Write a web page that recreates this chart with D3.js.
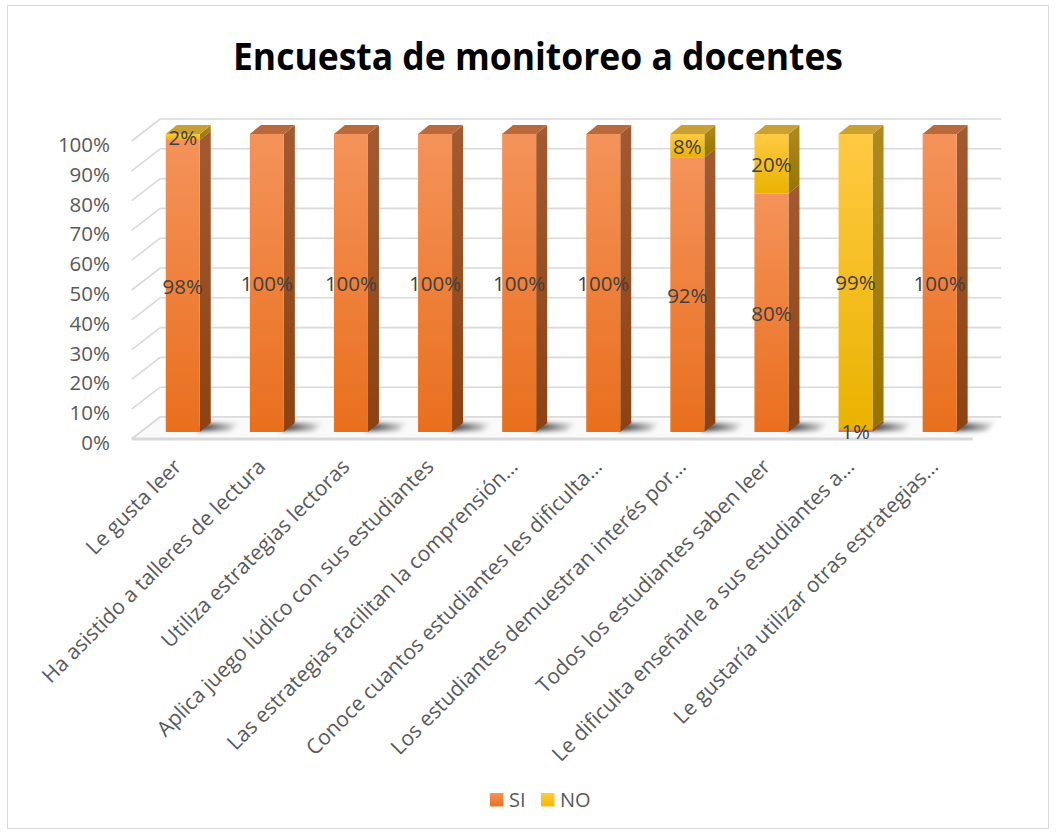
<!DOCTYPE html>
<html><head><meta charset="utf-8">
<script src="https://cdn.jsdelivr.net/npm/d3@7"></script>
<style>body{margin:0;background:#fff} svg{display:block}</style>
</head><body><svg id="c" width="1056" height="834"></svg>
<script>
// ---- data ----
const categories = [
  "Le gusta leer",
  "Ha asistido a talleres de lectura",
  "Utiliza estrategias lectoras",
  "Aplica juego lúdico con sus estudiantes",
  "Las estrategias facilitan la comprensión…",
  "Conoce cuantos estudiantes les dificulta…",
  "Los estudiantes demuestran interés por…",
  "Todos los estudiantes saben leer",
  "Le dificulta enseñarle a sus estudiantes a…",
  "Le gustaría utilizar otras estrategias…"
];
const siValues = [98, 100, 100, 100, 100, 100, 92, 80, 1, 100];
const noValues = [2, 0, 0, 0, 0, 0, 8, 20, 99, 0];
const seriesNames = ["SI", "NO"];
const yTicks = [0, 10, 20, 30, 40, 50, 60, 70, 80, 90, 100];
const titleText = "Encuesta de monitoreo a docentes";

// ---- layout ----
const svg = d3.select("#c");
const front = {x0: 131.7, x1: 972.7, y0: 439, y1: 141};
const wallD = {dx: 28.5, dy: -22};
const barOff = {dx: 9, dy: -7};
const barD = {dx: 11, dy: -9};
const barW = 34;

const x = d3.scaleBand().domain(categories).range([front.x0, front.x1]);
const y = d3.scaleLinear().domain([0, 100]).range([front.y0, front.y1]);

// border
svg.append("rect").attr("x", 7.5).attr("y", 5.5).attr("width", 1041).attr("height", 823)
  .attr("fill", "#fff").attr("stroke", "#D9D9D9").attr("stroke-width", 1);

// defs
const defs = svg.append("defs");
function lg(id, stops, horiz) {
  const g = defs.append("linearGradient").attr("id", id)
    .attr("x1", 0).attr("y1", 0).attr("x2", horiz ? 1 : 0).attr("y2", horiz ? 0 : 1);
  stops.forEach(s => g.append("stop").attr("offset", s[0]).attr("stop-color", s[1])
    .attr("stop-opacity", s[2] === undefined ? 1 : s[2]));
}
lg("siFront", [[0, "#F4935A"], [1, "#E96F1D"]]);
lg("siSide", [[0, "#A35A31"], [1, "#8C4211"]]);
lg("noFront", [[0, "#FFCA42"], [1, "#EAB200"]]);
lg("noSide", [[0, "#B08A1E"], [1, "#977300"]]);
lg("siLeg", [[0, "#F4935A"], [1, "#E96F1D"]]);
lg("noLeg", [[0, "#FFCA42"], [1, "#F2B800"]]);
lg("shadowG", [[0, "#000", 0.85], [0.6, "#000", 0.35], [1, "#000", 0]], true);
const flt = defs.append("filter").attr("id", "blur").attr("x", "-50%").attr("y", "-200%")
  .attr("width", "200%").attr("height", "500%");
flt.append("feGaussianBlur").attr("stdDeviation", 2.2);

const colors = {
  SI: {front: "url(#siFront)", side: "url(#siSide)", top: "#B86A3C", leg: "url(#siLeg)"},
  NO: {front: "url(#noFront)", side: "url(#noSide)", top: "#C9A033", leg: "url(#noLeg)"}
};

// title
svg.append("text").attr("x", 538).attr("y", 70).attr("text-anchor", "middle")
  .attr("font-family", "Open Sans, sans-serif").attr("font-weight", "bold")
  .attr("font-size", 38).attr("fill", "#000").text(titleText)
  .attr("textLength", 610).attr("lengthAdjust", "spacingAndGlyphs");

// walls / gridlines
const grid = svg.append("g").attr("stroke", "#D9D9D9").attr("stroke-width", 1.6).attr("fill", "none");
yTicks.forEach(t => {
  grid.append("line").attr("x1", front.x0 + wallD.dx).attr("x2", front.x1 + wallD.dx)
    .attr("y1", y(t) + wallD.dy).attr("y2", y(t) + wallD.dy);
  grid.append("line").attr("x1", front.x0).attr("y1", y(t))
    .attr("x2", front.x0 + wallD.dx).attr("y2", y(t) + wallD.dy);
});
// floor
svg.append("polygon")
  .attr("points", [[front.x0, y(0)], [front.x0 + wallD.dx, y(0) + wallD.dy],
    [front.x1 + wallD.dx, y(0) + wallD.dy], [front.x1, y(0)]].map(p => p.join(",")).join(" "))
  .attr("fill", "#FAFAFA").attr("stroke", "none");
svg.append("line").attr("x1", front.x0).attr("x2", front.x1).attr("y1", y(0)).attr("y2", y(0))
  .attr("stroke", "#D9D9D9").attr("stroke-width", 3);
svg.append("line").attr("x1", front.x0 + wallD.dx).attr("x2", front.x1 + wallD.dx)
  .attr("y1", y(0) + wallD.dy).attr("y2", y(0) + wallD.dy)
  .attr("stroke", "#D9D9D9").attr("stroke-width", 1.6);
svg.append("line").attr("x1", front.x0).attr("y1", y(0))
  .attr("x2", front.x0 + wallD.dx).attr("y2", y(0) + wallD.dy)
  .attr("stroke", "#D9D9D9").attr("stroke-width", 1.6);

// y tick labels
svg.append("g").selectAll("text").data(yTicks).join("text")
  .attr("x", 110).attr("y", d => y(d) + 3).attr("dominant-baseline", "central")
  .attr("text-anchor", "end").attr("font-family", "Open Sans, sans-serif").attr("font-size", 20.5)
  .attr("fill", "#595959").text(d => d + "%");

// data
const rows = categories.map((c, i) => ({c, segs: [
  {s: "SI", v0: 0, v1: siValues[i], v: siValues[i]},
  {s: "NO", v0: siValues[i], v1: siValues[i] + noValues[i], v: noValues[i]}
]}));

const barX = c => x(c) + x.bandwidth() / 2 + barOff.dx - barW / 2;
const by = v => y(v) + barOff.dy;

// shadows on the floor
svg.append("g").attr("filter", "url(#blur)").selectAll("polygon").data(rows).join("polygon")
  .attr("points", d => {
    const xr = barX(d.c) + barW;
    return [[xr - 4, by(0) - 1], [xr + 6, by(0) - 9], [xr + 40, by(0) - 9], [xr + 30, by(0) - 1]]
      .map(p => p.join(",")).join(" ");
  })
  .attr("fill", "url(#shadowG)");

// bars
const bars = svg.append("g");
rows.forEach(r => {
  const x0 = barX(r.c);
  const segs = r.segs.filter(s => s.v > 0);
  segs.forEach((s, k) => {
    const yt = by(s.v1), yb = by(s.v0);
    const col = colors[s.s];
    bars.append("polygon")
      .attr("points", [[x0 + barW, yt], [x0 + barW + barD.dx, yt + barD.dy],
        [x0 + barW + barD.dx, yb + barD.dy], [x0 + barW, yb]].map(p => p.join(",")).join(" "))
      .attr("fill", col.side);
    bars.append("rect").attr("x", x0).attr("y", yt).attr("width", barW).attr("height", yb - yt)
      .attr("fill", col.front);
    if (k === segs.length - 1) {
      bars.append("polygon")
        .attr("points", [[x0, yt], [x0 + barD.dx, yt + barD.dy],
          [x0 + barW + barD.dx, yt + barD.dy], [x0 + barW, yt]].map(p => p.join(",")).join(" "))
        .attr("fill", col.top);
    }
  });
});

// data labels
const labs = svg.append("g").attr("font-family", "Open Sans, sans-serif").attr("font-size", 20.5)
  .attr("fill", "#404040").attr("text-anchor", "middle");
rows.forEach(r => {
  r.segs.filter(s => s.v > 0).forEach(s => {
    labs.append("text").attr("x", barX(r.c) + barW / 2).attr("y", by((s.v0 + s.v1) / 2))
      .attr("dominant-baseline", "central").text(s.v + "%");
  });
});

// category labels
svg.append("g").selectAll("text").data(categories).join("text")
  .attr("transform", c => `translate(${x(c) + x.bandwidth() / 2 + 9},468) rotate(-45)`)
  .attr("text-anchor", "end").attr("font-family", "Open Sans, sans-serif").attr("font-size", 21)
  .attr("fill", "#595959").text(c => c);

// legend
const leg = svg.append("g").attr("font-family", "Open Sans, sans-serif").attr("font-size", 20)
  .attr("fill", "#595959");
const legPos = [490, 541];
seriesNames.forEach((n, i) => {
  leg.append("rect").attr("x", legPos[i]).attr("y", 793).attr("width", 13.5).attr("height", 13.5)
    .attr("fill", colors[n].leg);
  leg.append("text").attr("x", legPos[i] + 19).attr("y", 807).text(n);
});
</script></body></html>
